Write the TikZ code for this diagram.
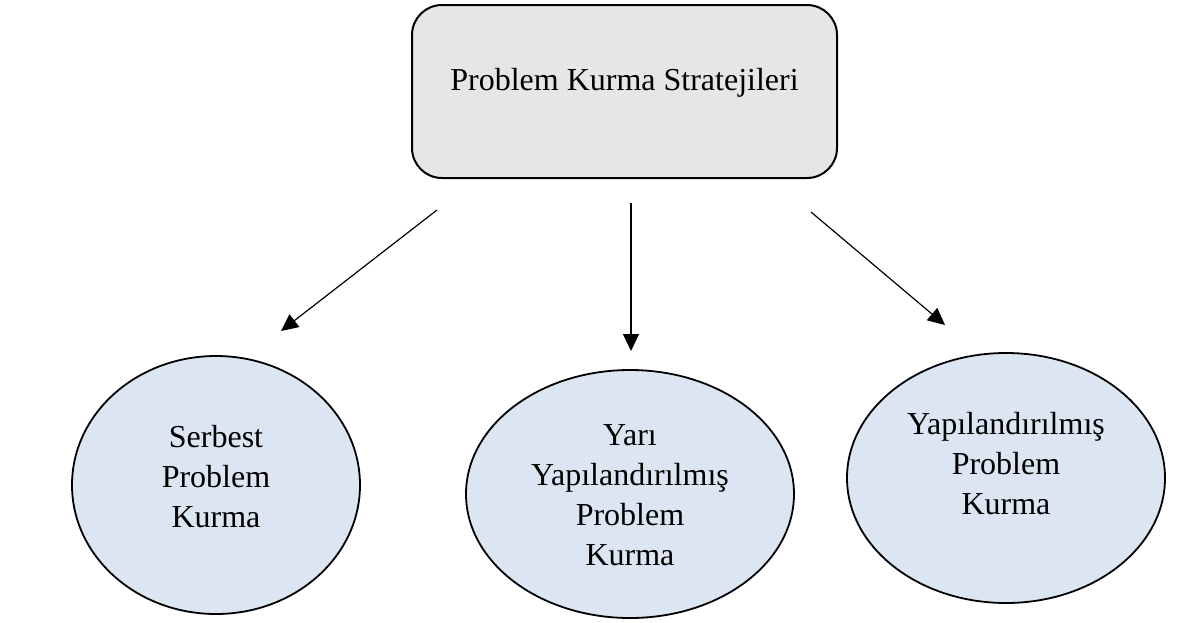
\documentclass[tikz,border=0pt]{standalone}
\usepackage{fontspec}
\setmainfont{Liberation Serif}
\usetikzlibrary{arrows.meta,shapes.geometric}
\definecolor{boxgray}{HTML}{E6E6E6}
\definecolor{ellblue}{HTML}{DCE6F2}
\tikzset{
  topbox/.style={draw=black, line width=2pt, fill=boxgray, rounded corners=30pt,
    minimum width=425pt, minimum height=173pt, inner sep=0pt},
  oval/.style={ellipse, draw=black, line width=1.8pt, fill=ellblue, inner sep=0pt},
  ovaltext/.style={align=center, font=\fontsize{32}{40}\selectfont},
  conn/.style={line width=1.2pt, -{Triangle[length=17pt,width=16pt]}}
}
\begin{document}
\begin{tikzpicture}[x=1pt,y=-1pt]
\useasboundingbox (0,0) rectangle (1202,622);
\node[topbox] (top) at (624.5,91.5) {};
\node[ovaltext, anchor=center] (toptext) at (624.5,83) {Problem Kurma Stratejileri};
\node[oval, minimum width=288pt, minimum height=258pt] (e1) at (216,485) {};
\node[oval, minimum width=328pt, minimum height=248pt] (e2) at (630,494) {};
\node[oval, minimum width=318pt, minimum height=250pt] (e3) at (1006,478) {};
\node[ovaltext] (t1) at ([yshift=8pt]e1.center) {Serbest\\Problem\\Kurma};
\node[ovaltext] (t2) at ([yshift=-1pt]e2.center) {Yarı\\Yapılandırılmış\\Problem\\Kurma};
\node[ovaltext] (t3) at ([yshift=14pt]e3.center) {Yapılandırılmış\\Problem\\Kurma};
\coordinate (s1) at (437,210);
\coordinate (d1) at (281,331);
\coordinate (s2) at (631,203);
\coordinate (d2) at (631,351);
\coordinate (s3) at (811,212);
\coordinate (d3) at (945,325);
\draw[conn] (s1) -- (d1);
\draw[conn] (s2) -- (d2);
\draw[conn] (s3) -- (d3);
\end{tikzpicture}
\end{document}
